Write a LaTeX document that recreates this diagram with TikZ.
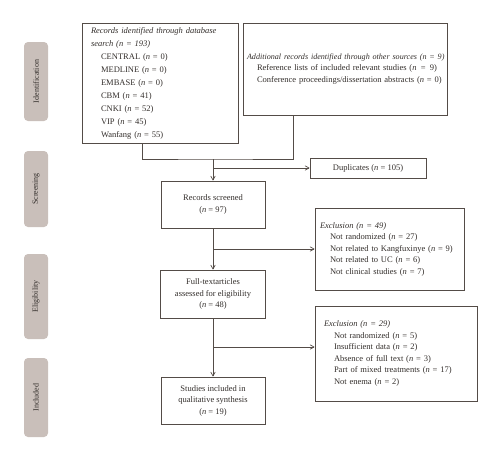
\documentclass[tikz,border=0pt]{standalone}
\usepackage{fontspec}
\setmainfont{Liberation Serif}
\usepackage{tikz}
\usetikzlibrary{arrows}
\definecolor{sidegray}{rgb}{0.79, 0.75, 0.73}
\definecolor{linegray}{rgb}{0.33, 0.30, 0.28}
\definecolor{textgray}{rgb}{0.20, 0.18, 0.17}
\newcommand{\nn}{\textit{n}}

\begin{document}
\begin{tikzpicture}[x=1pt,y=-1pt,>=angle 60,
    phase/.style={rectangle,rounded corners=4pt,fill=sidegray,rotate=90,
      minimum height=24pt,inner sep=0pt,text=textgray,font=\fontsize{8}{9}\selectfont},
    flowbox/.style={rectangle,draw=linegray,line width=0.7pt,inner sep=0pt,
      text=textgray,font=\fontsize{8.5}{11.5}\selectfont},
    link/.style={draw=linegray,line width=0.7pt}]

    \useasboundingbox (0,0) rectangle (500,461);

    \node[phase,minimum width=79pt] (ident) at (36,81.5) {Identification};
\node[phase,minimum width=76pt] (screenph) at (36,189) {Screening};
\node[phase,minimum width=85pt] (elig) at (36,296.5) {Eligibility};
\node[phase,minimum width=79pt] (incl) at (36,397.5) {Included};

\node[flowbox,minimum width=156pt,minimum height=120pt,text width=138pt,align=left,
  font=\fontsize{8.5}{13}\selectfont] (db) at (160,83) {\textit{Records identified through database}\\
  \textit{search (n = 193)}\\
  \hspace*{10pt}CENTRAL (\nn{} = 0)\\
  \hspace*{10pt}MEDLINE (\nn{} = 0)\\
  \hspace*{10pt}EMBASE (\nn{} = 0)\\
  \hspace*{10pt}CBM (\nn{} = 41)\\
  \hspace*{10pt}CNKI (\nn{} = 52)\\
  \hspace*{10pt}VIP (\nn{} = 45)\\
  \hspace*{10pt}Wanfang (\nn{} = 55)};
\node[flowbox,minimum width=204pt,minimum height=92pt,text width=196pt,align=left] (add) at (345,69)
  {\mbox{\fontsize{8.1}{11.5}\selectfont\itshape Additional records identified through other sources (n = 9)}\\
  \hspace*{10pt}Reference lists of included relevant studies (\nn{} \,=\, 9)\\
  \hspace*{10pt}Conference proceedings/dissertation abstracts (\nn{} = 0)};
\node[flowbox,minimum width=116pt,minimum height=20pt] (dup) at (368,168) {Duplicates (\nn{} = 105)};
\node[flowbox,minimum width=104pt,minimum height=47pt,align=center] (screen) at (213,204.5)
  {Records screened\\(\nn{} = 97)};
\node[flowbox,minimum width=149pt,minimum height=82pt,text width=139pt,align=left] (exca) at (389.5,249)
  {\textit{Exclusion (n = 49)}\\
  \hspace*{10pt}Not randomized (\nn{} = 27)\\
  \hspace*{10pt}Not related to Kangfuxinye (\nn{} = 9)\\
  \hspace*{10pt}Not related to UC (\nn{} = 6)\\
  \hspace*{10pt}Not clinical studies (\nn{} = 7)};
\node[flowbox,minimum width=105pt,minimum height=48pt,align=center] (full) at (213,294)
  {Full-textarticles\\assessed for eligibility\\(\nn{} = 48)};
\node[flowbox,minimum width=162pt,minimum height=95pt,text width=144pt,align=left] (excb) at (396,353.5)
  {\textit{Exclusion (n = 29)}\\
  \hspace*{10pt}Not randomized (\nn{} = 5)\\
  \hspace*{10pt}Insufficient data (\nn{} = 2)\\
  \hspace*{10pt}Absence of full text (\nn{} = 3)\\
  \hspace*{10pt}Part of mixed treatments (\nn{} = 17)\\
  \hspace*{10pt}Not enema (\nn{} = 2)};
\node[flowbox,minimum width=104pt,minimum height=47pt,align=center] (studies) at (213,400.5)
  {Studies included in\\qualitative synthesis\\(\nn{} = 19)};

\coordinate (dbout) at (142,143);
\coordinate (addout) at (293,115);
\coordinate (merge) at (213,159);
\coordinate (splitb) at (213,347);
\draw[link] (dbout) |- (merge) -| (addout);
\draw[link,->] (merge) -- (screen.north);
\draw[link,->] (merge |- dup) -- (dup.west);
\draw[link,->] (screen.south) -- (full.north);
\draw[link,->] (screen.south |- exca) -- (exca.west);
\draw[link,->] (full.south) -- (studies.north);
\draw[link,->] (splitb) -- (splitb -| excb.west);

  \end{tikzpicture}
\end{document}
